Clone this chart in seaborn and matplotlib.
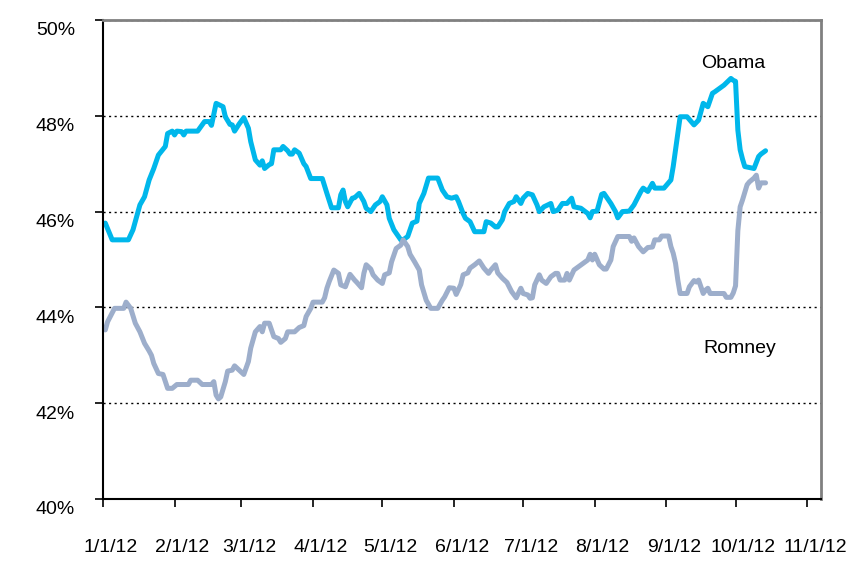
import pandas as pd
import numpy as np
import seaborn as sns
import matplotlib as mpl
mpl.use("Agg")
import matplotlib.pyplot as plt
import matplotlib.dates as mdates
import matplotlib.transforms as mtransforms

sns.set_theme(style="white")
plt.rcParams['font.family'] = ['Liberation Sans', 'DejaVu Sans']

# days since 1/1/12 and poll share (%)
obama_day = [1, 4, 11, 13, 16, 18, 20, 22, 24, 27, 28, 30, 31, 32, 34, 35, 36, 41, 44, 46,
             47, 49, 52, 53, 55, 56, 57, 59, 61, 63, 64, 66, 68, 69, 70, 72, 73, 74, 77, 78,
             80, 81, 82, 83, 85, 87, 88, 90, 95, 97, 99, 102, 103, 104, 105, 106, 108, 109, 111, 113,
             114, 116, 118, 120, 121, 123, 124, 126, 129, 130, 132, 134, 136, 137, 139, 141, 145, 147, 149, 151,
             153, 154, 156, 157, 159, 161, 165, 166, 168, 170, 171, 173, 174, 176, 178, 179, 181, 182, 184, 186,
             188, 189, 191, 194, 195, 197, 199, 201, 203, 204, 207, 210, 211, 212, 214, 216, 217, 220, 222, 223,
             225, 228, 230, 233, 234, 236, 238, 239, 243, 246, 247, 248, 250, 253, 256, 258, 260, 262, 264, 265,
             267, 269, 272, 273, 274, 275, 276, 277, 278, 282, 284, 285, 287]
obama_val = [45.76, 45.41, 45.41, 45.62, 46.14, 46.31, 46.66, 46.90, 47.18, 47.36, 47.63, 47.68, 47.60, 47.68, 47.67, 47.60, 47.68, 47.68, 47.88, 47.88,
             47.80, 48.26, 48.19, 47.98, 47.82, 47.81, 47.68, 47.83, 47.96, 47.74, 47.46, 47.08, 46.97, 47.06, 46.90, 46.98, 47.00, 47.29, 47.29, 47.36,
             47.27, 47.20, 47.20, 47.29, 47.22, 47.00, 46.94, 46.69, 46.69, 46.38, 46.08, 46.08, 46.35, 46.45, 46.21, 46.10, 46.28, 46.29, 46.38, 46.21,
             46.07, 46.00, 46.14, 46.21, 46.31, 46.14, 45.86, 45.62, 45.41, 45.41, 45.48, 45.76, 45.80, 46.17, 46.38, 46.70, 46.70, 46.45, 46.31, 46.28,
             46.31, 46.21, 45.96, 45.86, 45.79, 45.58, 45.58, 45.79, 45.76, 45.68, 45.68, 45.83, 46.00, 46.17, 46.21, 46.31, 46.17, 46.28, 46.38, 46.35,
             46.14, 46.00, 46.10, 46.17, 46.00, 46.03, 46.17, 46.17, 46.28, 46.10, 46.07, 45.96, 45.87, 46.00, 46.01, 46.36, 46.38, 46.17, 46.00, 45.87,
             46.00, 46.01, 46.14, 46.42, 46.49, 46.42, 46.59, 46.49, 46.49, 46.66, 46.94, 47.29, 47.98, 47.98, 47.81, 47.91, 48.26, 48.19, 48.47, 48.50,
             48.57, 48.64, 48.78, 48.74, 48.72, 47.70, 47.29, 47.10, 46.94, 46.90, 47.15, 47.20, 47.27]

romney_day = [1, 2, 5, 9, 10, 12, 14, 16, 18, 20, 21, 22, 24, 26, 28, 30, 32, 37, 38, 41,
              43, 47, 48, 49, 50, 51, 53, 54, 56, 57, 59, 61, 63, 64, 66, 68, 69, 70, 72, 74,
              76, 77, 79, 80, 83, 85, 87, 88, 90, 91, 95, 96, 97, 98, 100, 102, 103, 105, 107, 109,
              110, 112, 113, 114, 116, 117, 119, 121, 122, 124, 125, 127, 129, 130, 132, 133, 135, 137, 138, 140,
              142, 145, 147, 148, 150, 152, 153, 155, 156, 158, 159, 161, 163, 165, 167, 168, 170, 171, 173, 175,
              177, 179, 181, 182, 184, 185, 186, 187, 189, 190, 192, 194, 196, 197, 198, 200, 201, 202, 204, 206,
              208, 210, 211, 212, 213, 215, 217, 218, 220, 221, 223, 228, 229, 230, 232, 234, 236, 238, 239, 241,
              242, 245, 246, 247, 248, 249, 250, 253, 254, 256, 257, 258, 260, 261, 262, 263, 269, 270, 272, 273,
              274, 275, 276, 277, 279, 280, 282, 283, 284, 285, 287]
romney_val = [43.53, 43.70, 43.98, 43.98, 44.11, 43.98, 43.67, 43.49, 43.25, 43.09, 43.00, 42.83, 42.62, 42.60, 42.31, 42.31, 42.39, 42.39, 42.48, 42.48,
              42.39, 42.39, 42.45, 42.17, 42.09, 42.13, 42.45, 42.67, 42.69, 42.78, 42.69, 42.60, 42.87, 43.15, 43.49, 43.60, 43.49, 43.67, 43.67, 43.39,
              43.35, 43.27, 43.35, 43.49, 43.49, 43.58, 43.62, 43.81, 43.98, 44.11, 44.11, 44.20, 44.40, 44.54, 44.78, 44.71, 44.47, 44.43, 44.69, 44.57,
              44.52, 44.41, 44.71, 44.89, 44.80, 44.68, 44.57, 44.50, 44.68, 44.72, 44.95, 45.23, 45.30, 45.41, 45.27, 45.11, 44.95, 44.78, 44.47, 44.15,
              43.98, 43.98, 44.15, 44.22, 44.41, 44.40, 44.27, 44.48, 44.68, 44.72, 44.82, 44.89, 44.97, 44.82, 44.71, 44.78, 44.89, 44.72, 44.61, 44.52,
              44.33, 44.20, 44.40, 44.29, 44.26, 44.19, 44.20, 44.47, 44.68, 44.57, 44.50, 44.64, 44.71, 44.71, 44.57, 44.57, 44.71, 44.57, 44.78, 44.85,
              44.92, 44.99, 45.11, 44.99, 45.11, 44.89, 44.80, 44.80, 44.99, 45.27, 45.48, 45.48, 45.38, 45.45, 45.27, 45.16, 45.25, 45.26, 45.41, 45.41,
              45.49, 45.49, 45.27, 45.13, 44.92, 44.57, 44.29, 44.29, 44.43, 44.56, 44.53, 44.57, 44.29, 44.36, 44.40, 44.29, 44.29, 44.21, 44.21, 44.30,
              44.45, 45.60, 46.10, 46.24, 46.56, 46.62, 46.70, 46.76, 46.49, 46.60, 46.60]

start = pd.Timestamp('2012-01-01')
obama = pd.DataFrame({'date': start + pd.to_timedelta(obama_day, unit='D'), 'share': obama_val})
romney = pd.DataFrame({'date': start + pd.to_timedelta(romney_day, unit='D'), 'share': romney_val})

fig = plt.figure(figsize=(8.61, 5.83), dpi=100)
ax = fig.add_axes([0.1196, 0.1441, 0.8339, 0.8216])

sns.lineplot(data=obama, x='date', y='share', color='#00B7EB', linewidth=3.6, ax=ax)
sns.lineplot(data=romney, x='date', y='share', color='#9DAECB', linewidth=3.6, ax=ax)

ax.set_xlim(pd.Timestamp('2012-01-01'), pd.Timestamp('2012-11-07'))
ax.set_ylim(40, 50)
ax.set_xlabel('')
ax.set_ylabel('')

ax.set_yticks([40, 42, 44, 46, 48, 50])
ax.set_yticklabels([f'{v}%' for v in [40, 42, 44, 46, 48, 50]])
ax.xaxis.set_major_locator(mdates.MonthLocator())
ax.xaxis.set_major_formatter(plt.FuncFormatter(
    lambda x, pos: (lambda d: f'{d.month}/{d.day}/{d.strftime("%y")}')(mdates.num2date(x))))

ax.yaxis.grid(True, linestyle=(0, (1.5, 2.5)), color='black', linewidth=1)
ax.xaxis.grid(False)
ax.set_axisbelow(True)

ax.tick_params(axis='both', which='major', direction='out', length=6, width=1.2,
               color='black', labelsize=14, labelcolor='black')
ax.tick_params(axis='x', pad=23, bottom=True)
ax.tick_params(axis='y', pad=14, left=True)

for lab in ax.get_yticklabels():
    lab.set_transform(lab.get_transform() + mtransforms.ScaledTranslation(0, -0.09, fig.dpi_scale_trans))
for lab in ax.get_xticklabels():
    lab.set_transform(lab.get_transform() + mtransforms.ScaledTranslation(0.08, 0, fig.dpi_scale_trans))

for side in ['left', 'bottom']:
    ax.spines[side].set_color('black')
    ax.spines[side].set_linewidth(1.5)
for side in ['top', 'right']:
    ax.spines[side].set_color('#808080')
    ax.spines[side].set_linewidth(2)

ax.text(start + pd.Timedelta(days=273), 49.1, 'Obama', ha='center', va='center', fontsize=14, color='black')
ax.text(start + pd.Timedelta(days=276), 43.15, 'Romney', ha='center', va='center', fontsize=14, color='black')

fig.savefig('out.png', dpi=100)
